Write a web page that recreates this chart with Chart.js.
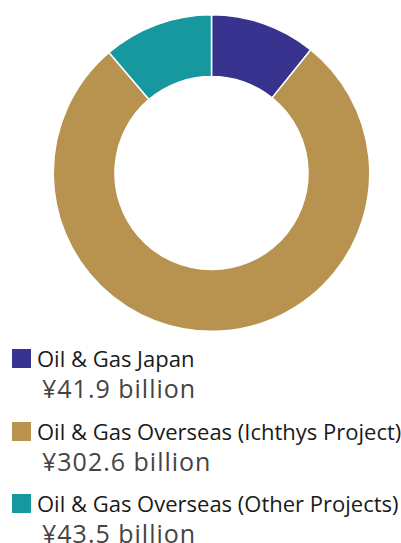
<!DOCTYPE html>
<html>
<head>
<meta charset="utf-8">
<script src="https://cdn.jsdelivr.net/npm/chart.js@4.4.1/dist/chart.umd.min.js"></script>
<style>
  html, body { margin:0; padding:0; background:#fff; }
  body { width:401px; height:543px; position:relative; overflow:hidden; font-family:"Open Sans", sans-serif; }
  #wrap { position:absolute; left:0; top:14px; width:401px; height:318px; }
  #legend { position:absolute; left:0; top:342px; width:401px; }
  .item { position:relative; height:72.5px; }
  .box { position:absolute; left:12px; top:7px; width:19px; height:19px; }
  .label { position:absolute; left:37px; top:2px; height:28px; line-height:28px; font-size:22px; color:#1a1a1a; white-space:nowrap; }
  .value { position:absolute; left:42px; top:29px; height:34px; line-height:34px; font-size:25px; letter-spacing:1px; color:#444; white-space:nowrap; }
</style>
</head>
<body>
<div id="wrap"><canvas id="chart"></canvas></div>
<div id="legend"></div>
<script>
const labels = ["Oil & Gas Japan", "Oil & Gas Overseas (Ichthys Project)", "Oil & Gas Overseas (Other Projects)"]
const values = [41.9, 302.6, 43.5]
const colors = ["#38338f", "#b8934f", "#17989f"]

const legend = document.getElementById("legend")
labels.forEach((label, i) => {
  const item = document.createElement("div")
  item.className = "item"
  item.innerHTML = `<div class="box" style="background:${colors[i]}"></div>` +
    `<div class="label">${label.replace("&", "&amp;")}</div>` +
    `<div class="value">¥${values[i].toFixed(1)} billion</div>`
  legend.appendChild(item)
})

new Chart(document.getElementById("chart"), {
  type: "doughnut",
  data: {
    labels,
    datasets: [{
      data: values,
      backgroundColor: colors,
      borderColor: "#ffffff",
      borderWidth: 1.5
    }]
  },
  options: {
    responsive: true,
    maintainAspectRatio: false,
    animation: false,
    cutout: "61%",
    layout: { padding: { left: 22, right: 0, top: 0, bottom: 0 } },
    plugins: { legend: { display: false }, tooltip: { enabled: false } }
  }
})
</script>
</body>
</html>
